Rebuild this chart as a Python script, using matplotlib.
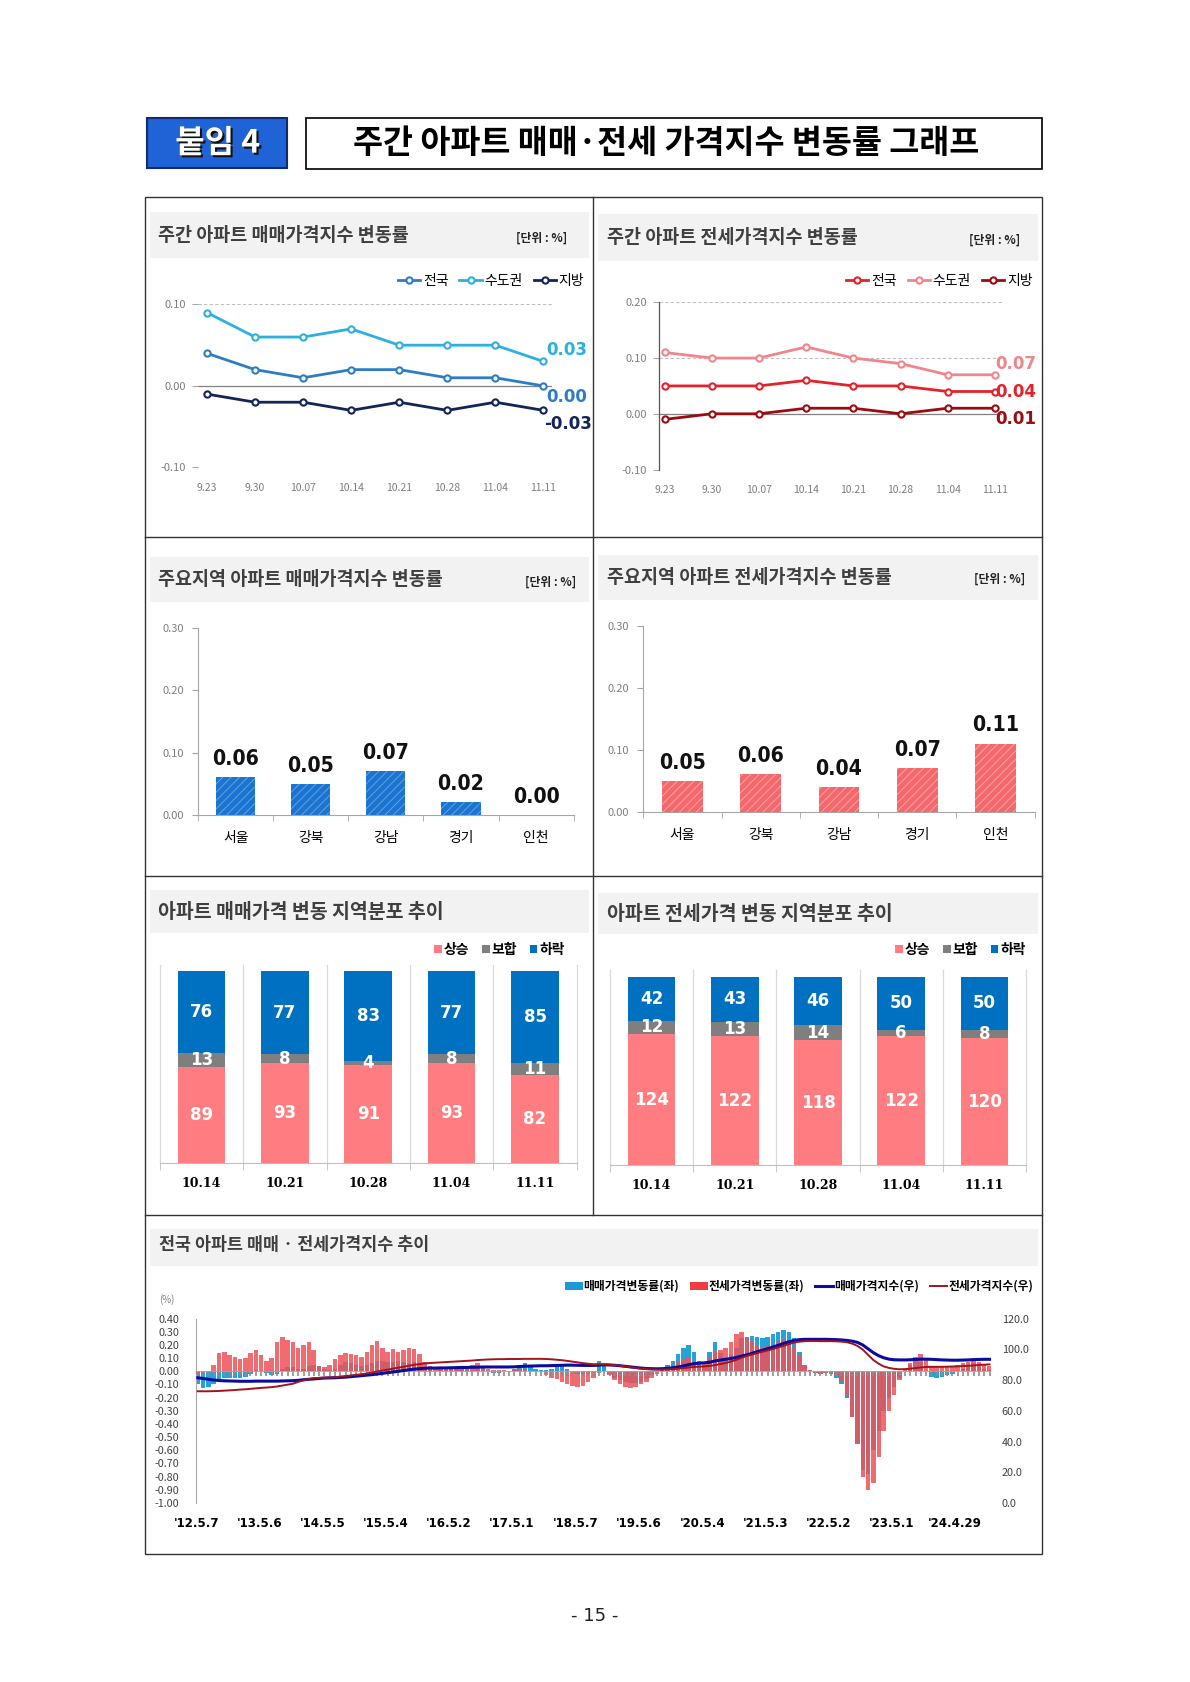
import numpy as np
import pandas as pd
import matplotlib
matplotlib.use('Agg')
import matplotlib.pyplot as plt
from matplotlib import font_manager as fm
from matplotlib.patches import Rectangle, Patch
from matplotlib.lines import Line2D
import matplotlib.patheffects as pe
import matplotlib.dates as mdates

KR = ['Noto Sans CJK KR', 'DejaVu Sans']
plt.rcParams['font.family'] = KR
plt.rcParams['axes.unicode_minus'] = False
plt.rcParams['hatch.linewidth'] = 0.7
_fl = fm.fontManager.ttflist
_names = {f.name for f in _fl}
if 'Liberation Sans Narrow' in _names:
    NUM = dict(family=['Liberation Sans Narrow', 'DejaVu Sans'])
    NS = 1.0
elif any(f.name == 'DejaVu Sans' and 'ondensed' in str(f.stretch) + f.fname for f in _fl):
    NUM = dict(family=['DejaVu Sans'], fontstretch='condensed')
    NS = 0.95
else:
    NUM = dict(family=['DejaVu Sans'])
    NS = 0.85

# ---------------- data ----------------
weeks = ['9.23', '9.30', '10.07', '10.14', '10.21', '10.28', '11.04', '11.11']
sale_nat = [0.04, 0.02, 0.01, 0.02, 0.02, 0.01, 0.01, 0.00]
sale_cap = [0.09, 0.06, 0.06, 0.07, 0.05, 0.05, 0.05, 0.03]
sale_loc = [-0.01, -0.02, -0.02, -0.03, -0.02, -0.03, -0.02, -0.03]
jeon_nat = [0.05, 0.05, 0.05, 0.06, 0.05, 0.05, 0.04, 0.04]
jeon_cap = [0.11, 0.10, 0.10, 0.12, 0.10, 0.09, 0.07, 0.07]
jeon_loc = [-0.01, 0.00, 0.00, 0.01, 0.01, 0.00, 0.01, 0.01]
line_names = ['전국', '수도권', '지방']

regions = ['서울', '강북', '강남', '경기', '인천']
sale_region = [0.06, 0.05, 0.07, 0.02, 0.00]
jeon_region = [0.05, 0.06, 0.04, 0.07, 0.11]

dist_weeks = ['10.14', '10.21', '10.28', '11.04', '11.11']
dist_names = ['상승', '보합', '하락']
sale_up = [89, 93, 91, 93, 82]
sale_flat = [13, 8, 4, 8, 11]
sale_down = [76, 77, 83, 77, 85]
jeon_up = [124, 122, 118, 122, 120]
jeon_flat = [12, 13, 14, 6, 8]
jeon_down = [42, 43, 46, 50, 50]

# long-run series (monthly readings, May 2012 - Nov 2024)
month_start = '2012-05-01'
sale_rate = [
    -0.10, -0.13, -0.12, -0.10, -0.06, -0.05, -0.05, -0.05,
    -0.05, -0.04, -0.02, 0.01, 0.00, -0.01, -0.03, -0.02, 0.02, 0.03, 0.03, 0.02,
    0.02, 0.04, 0.05, 0.04, 0.02, 0.01, 0.02, 0.05, 0.07, 0.06, 0.05, 0.04,
    0.05, 0.06, 0.08, 0.08, 0.07, 0.07, 0.08, 0.07, 0.06, 0.07, 0.06, 0.03,
    0.01, 0.00, 0.01, 0.01, 0.02, 0.03, 0.02, 0.02, 0.01, 0.03, 0.04, 0.00,
    -0.01, -0.01, 0.00, 0.00, 0.02, 0.05, 0.06, 0.03, 0.02, 0.01, 0.01, 0.02,
    0.03, 0.04, 0.02, 0.00, -0.02, -0.02, -0.01, 0.00, 0.08, 0.05, -0.02, -0.05,
    -0.07, -0.08, -0.09, -0.09, -0.08, -0.06, -0.03, 0.00, 0.02, 0.05, 0.08, 0.13,
    0.18, 0.20, 0.15, 0.08, 0.05, 0.15, 0.22, 0.14, 0.10, 0.12, 0.18, 0.25,
    0.26, 0.27, 0.26, 0.25, 0.26, 0.28, 0.30, 0.31, 0.30, 0.25, 0.15, 0.05,
    0.01, -0.01, -0.02, -0.01, -0.02, -0.05, -0.10, -0.20, -0.35, -0.55, -0.75, -0.78,
    -0.60, -0.45, -0.30, -0.20, -0.12, -0.05, 0.00, 0.05, 0.08, 0.07, 0.00, -0.04,
    -0.05, -0.04, -0.03, -0.02, 0.00, 0.02, 0.05, 0.06, 0.05, 0.02, 0.01]
jeon_rate = [
    -0.02, -0.01, 0.00, 0.05, 0.14, 0.15, 0.12, 0.11,
    0.09, 0.10, 0.14, 0.16, 0.12, 0.08, 0.10, 0.22, 0.26, 0.24, 0.22, 0.18,
    0.20, 0.22, 0.16, 0.04, 0.03, 0.05, 0.09, 0.12, 0.14, 0.13, 0.12, 0.11,
    0.15, 0.20, 0.23, 0.18, 0.15, 0.17, 0.15, 0.16, 0.18, 0.17, 0.13, 0.07,
    0.04, 0.03, 0.03, 0.02, 0.02, 0.03, 0.03, 0.03, 0.05, 0.06, 0.04, 0.02,
    0.01, 0.01, 0.01, 0.00, 0.01, 0.01, 0.01, 0.00, 0.00, 0.00, -0.03, -0.05,
    -0.06, -0.08, -0.10, -0.11, -0.12, -0.11, -0.08, -0.05, -0.01, 0.00, -0.03, -0.07,
    -0.10, -0.12, -0.13, -0.12, -0.10, -0.08, -0.05, -0.02, 0.01, 0.03, 0.05, 0.08,
    0.09, 0.10, 0.08, 0.05, 0.06, 0.10, 0.15, 0.16, 0.18, 0.22, 0.28, 0.30,
    0.25, 0.22, 0.20, 0.18, 0.19, 0.20, 0.22, 0.24, 0.23, 0.18, 0.12, 0.05,
    0.01, -0.01, -0.01, -0.01, 0.00, -0.03, -0.08, -0.18, -0.35, -0.55, -0.80, -0.90,
    -0.85, -0.65, -0.45, -0.30, -0.18, -0.07, 0.01, 0.06, 0.11, 0.13, 0.09, 0.04,
    0.03, 0.03, 0.03, 0.04, 0.05, 0.06, 0.07, 0.08, 0.07, 0.05, 0.04]
sale_idx = [
    81.5, 81.0, 80.5, 80.0, 79.7, 79.5, 79.4, 79.3,
    79.2, 79.2, 79.2, 79.3, 79.3, 79.3, 79.3, 79.3, 79.4, 79.5, 79.6, 79.8,
    80.2, 80.5, 80.8, 81.1, 81.3, 81.4, 81.5, 81.7, 81.9, 82.2, 82.5, 82.8,
    83.1, 83.5, 83.9, 84.3, 84.7, 85.2, 85.7, 86.2, 86.7, 87.1, 87.4, 87.7,
    87.8, 87.8, 87.9, 87.9, 88.0, 88.1, 88.2, 88.2, 88.3, 88.4, 88.5, 88.5,
    88.5, 88.5, 88.5, 88.5, 88.6, 88.8, 89.0, 89.1, 89.2, 89.3, 89.3, 89.4,
    89.5, 89.6, 89.7, 89.7, 89.6, 89.5, 89.5, 89.5, 89.7, 89.9, 89.8, 89.6,
    89.3, 88.9, 88.5, 88.1, 87.8, 87.5, 87.4, 87.3, 87.4, 87.6, 88.0, 88.5,
    89.2, 90.0, 90.6, 91.0, 91.2, 91.6, 92.4, 93.0, 93.5, 94.0, 94.7, 95.5,
    96.4, 97.4, 98.4, 99.4, 100.4, 101.5, 102.6, 103.8, 104.9, 105.8, 106.3, 106.5,
    106.5, 106.5, 106.5, 106.5, 106.4, 106.3, 106.1, 105.8, 105.3, 104.5, 102.8, 100.3,
    97.8, 95.8, 94.5, 93.6, 93.2, 93.1, 93.1, 93.2, 93.4, 93.6, 93.6, 93.5,
    93.3, 93.1, 93.0, 92.9, 92.9, 93.0, 93.1, 93.3, 93.4, 93.5, 93.5]
jeon_idx = [
    72.7, 72.7, 72.7, 72.8, 72.9, 73.1, 73.3, 73.5,
    73.8, 74.0, 74.3, 74.6, 74.9, 75.1, 75.4, 75.8, 76.4, 77.0, 77.6, 78.8,
    79.8, 80.6, 81.2, 81.4, 81.5, 81.7, 81.9, 82.2, 82.6, 83.0, 83.4, 83.8,
    84.3, 84.9, 85.5, 86.2, 86.8, 87.4, 88.0, 88.7, 89.3, 89.9, 90.4, 90.8,
    91.1, 91.3, 91.5, 91.7, 91.9, 92.1, 92.3, 92.5, 92.7, 93.0, 93.2, 93.4,
    93.5, 93.6, 93.6, 93.7, 93.7, 93.7, 93.8, 93.8, 93.8, 93.8, 93.7, 93.5,
    93.2, 92.9, 92.5, 92.0, 91.5, 91.0, 90.6, 90.3, 90.2, 90.2, 90.0, 89.7,
    89.3, 88.8, 88.3, 87.8, 87.4, 87.1, 86.9, 86.8, 86.8, 86.9, 87.1, 87.4,
    87.8, 88.2, 88.5, 88.7, 88.9, 89.2, 89.7, 90.4, 91.1, 92.0, 93.2, 94.5,
    95.6, 96.6, 97.5, 98.4, 99.3, 100.2, 101.2, 102.3, 103.4, 104.4, 105.0, 105.3,
    105.4, 105.4, 105.3, 105.3, 105.3, 105.2, 105.0, 104.6, 103.7, 102.2, 99.8, 96.5,
    93.0, 90.6, 88.9, 87.9, 87.3, 87.0, 87.1, 87.4, 87.8, 88.2, 88.5, 88.6,
    88.6, 88.6, 88.7, 88.8, 88.9, 89.1, 89.3, 89.5, 89.8, 90.0, 90.2]
long_ticks = ["'12.5.7", "'13.5.6", "'14.5.5", "'15.5.4", "'16.5.2", "'17.5.1",
              "'18.5.7", "'19.5.6", "'20.5.4", "'21.5.3", "'22.5.2", "'23.5.1", "'24.4.29"]
long_names = ['매매가격변동률(좌)', '전세가격변동률(좌)', '매매가격지수(우)', '전세가격지수(우)']

# ---------------- layout helpers ----------------
W, H = 1110.0, 1569.0
fig = plt.figure(figsize=(11.9, 16.82), dpi=100)
fig.patch.set_facecolor('white')


def add_ax(l, t, r, b):
    return fig.add_axes([l / W, 1 - b / H, (r - l) / W, (b - t) / H])


def frect(l, t, r, b, **kw):
    fig.add_artist(Rectangle((l / W, 1 - b / H), (r - l) / W, (b - t) / H,
                             transform=fig.transFigure, **kw))


def fline(x0, y0, x1, y1, **kw):
    fig.add_artist(Line2D([x0 / W, x1 / W], [1 - y0 / H, 1 - y1 / H],
                          transform=fig.transFigure, **kw))


def ftext(x, y, s, **kw):
    return fig.text(x / W, 1 - y / H, s, **kw)


def fpt(x, y):
    return (x / W, 1 - y / H)


# ---------------- page header ----------------
frect(137, 110, 268, 157, facecolor='#1F63D6', edgecolor='#0E2C6E', lw=1.5)
ftext(203, 134, '붙임 4', fontsize=23, fontweight='bold', color='white', ha='center', va='center',
      path_effects=[pe.withSimplePatchShadow(offset=(1.5, -1.5), shadow_rgbFace='#111111', alpha=1.0)])
frect(285, 110, 972, 158, facecolor='white', edgecolor='black', lw=1.2)
ftext(621, 134, '주간 아파트 매매·전세 가격지수 변동률 그래프', fontsize=23.5, fontweight='bold',
      ha='center', va='center', color='black')

# outer frame
frect(135, 184, 972, 1450, facecolor='none', edgecolor='#333333', lw=1.0, zorder=5)
fline(553, 184, 553, 1133, color='#333333', lw=1.0)
for yy in (501, 817, 1133):
    fline(135, yy, 972, yy, color='#333333', lw=1.0)

# header bands
bands = [
    (140, 198, 549, 241, 147, 220, '주간 아파트 매매가격지수 변동률', (505, 222), 13.3),
    (558, 200, 968, 243, 566, 222, '주간 아파트 전세가격지수 변동률', (928, 224), 13.3),
    (140, 520, 549, 562, 147, 541, '주요지역 아파트 매매가격지수 변동률', (514, 543), 13.3),
    (558, 518, 968, 560, 566, 539, '주요지역 아파트 전세가격지수 변동률', (932, 540), 13.3),
    (140, 830, 549, 870, 147, 851, '아파트 매매가격 변동 지역분포 추이', None, 14),
    (558, 833, 968, 871, 566, 853, '아파트 전세가격 변동 지역분포 추이', None, 14),
    (140, 1146, 968, 1181, 148, 1161, '전국 아파트 매매 · 전세가격지수 추이', None, 12.5),
]
for l, t, r, b, tx, ty, title, unit, fs in bands:
    frect(l, t, r, b, facecolor='#F2F2F2', edgecolor='none', zorder=0)
    ftext(tx, ty, title, fontsize=fs, fontweight='bold', color='#3F3F3F', ha='left', va='center')
    if unit is not None:
        ftext(unit[0], unit[1], '[단위 : %]', fontsize=8.5, fontweight='bold', color='#222222',
              ha='center', va='center')


# ---------------- weekly line panels ----------------
def line_panel(rect, series, colors, ylim, yticks, xlim, spine, legend_right, end_offsets):
    ax = add_ax(*rect)
    x = np.arange(len(weeks))
    for vals, col, name in zip(series, colors, line_names):
        ax.plot(x, vals, color=col, lw=2.0, marker='o', ms=4.5, mfc='white', mec=col, mew=1.5,
                label=name, zorder=3, clip_on=False)
    ax.set_xlim(*xlim)
    ax.set_ylim(*ylim)
    for yv in yticks:
        if abs(yv) < 1e-9:
            ax.axhline(yv, color='#808080', lw=0.9, zorder=1)
        else:
            ax.axhline(yv, color='#BFBFBF', lw=0.8, ls=(0, (3, 2)), zorder=1)
    for s in ax.spines.values():
        s.set_visible(False)
    if spine:
        ax.spines['left'].set_visible(True)
        ax.spines['left'].set_color('#555555')
        ax.spines['left'].set_linewidth(0.9)
    ax.set_yticks(yticks)
    ax.set_yticklabels([f'{v:.2f}' for v in yticks])
    ax.tick_params(axis='y', length=4, color='#A6A6A6', labelsize=8, labelcolor='#7F7F7F', pad=5)
    ax.set_xticks(x)
    ax.set_xticklabels(weeks)
    ax.tick_params(axis='x', length=0, labelsize=7.5, labelcolor='#7F7F7F', pad=11)
    ax.legend(loc='center right', bbox_to_anchor=fpt(legend_right, 262), bbox_transform=fig.transFigure,
              ncol=3, frameon=False, fontsize=10, handlelength=1.6, handletextpad=0.2,
              columnspacing=0.8, borderpad=0, borderaxespad=0)
    for vals, col, off in zip(series, colors, end_offsets):
        ax.annotate(f'{vals[-1]:.2f}', xy=(x[-1], vals[-1]), xytext=off, textcoords='offset points',
                    ha='center', va='center', color=col, fontsize=14 * NS,
                    fontweight='bold', annotation_clip=False, **NUM)
    return ax


line_panel((185, 284, 515, 436), [sale_nat, sale_cap, sale_loc], ['#2E7DC4', '#2BB0E0', '#14245A'],
           (-0.10, 0.10), [-0.10, 0.0, 0.10], (-0.18, 7.18), False, 545,
           [(17, -8), (17, 8.5), (18, -10)])
line_panel((615, 282, 935, 438), [jeon_nat, jeon_cap, jeon_loc], ['#E1232B', '#F0868C', '#9C0B12'],
           (-0.10, 0.20), [-0.10, 0.0, 0.10, 0.20], (-0.114, 7.16), True, 963,
           [(15, 0), (15, 8), (15, -8)])


# ---------------- regional bar panels ----------------
def region_panel(rect, vals, color, hatch_color):
    ax = add_ax(*rect)
    xr = np.arange(len(regions))
    ax.bar(xr, vals, width=0.52, color=color, edgecolor=hatch_color, hatch='////', lw=0, zorder=2)
    for i, v in enumerate(vals):
        ax.annotate(f'{v:.2f}', xy=(xr[i], v), xytext=(0, 13), textcoords='offset points',
                    ha='center', va='center', fontsize=16 * NS, fontweight='bold',
                    color='#111111', **NUM)
    ax.set_xlim(-0.5, len(regions) - 0.5)
    ax.set_ylim(0, 0.30)
    yt = [0.0, 0.10, 0.20, 0.30]
    ax.set_yticks(yt)
    ax.set_yticklabels([f'{v:.2f}' for v in yt])
    ax.tick_params(axis='y', length=4, color='#A6A6A6', labelsize=8, labelcolor='#7F7F7F', pad=6)
    ax.set_xticks(xr)
    ax.set_xticklabels(regions)
    ax.set_xticks(np.arange(-0.5, len(regions)), minor=True)
    ax.tick_params(axis='x', which='major', length=0, labelsize=10, pad=12)
    ax.tick_params(axis='x', which='minor', length=4, color='#A6A6A6')
    ax.spines['top'].set_visible(False)
    ax.spines['right'].set_visible(False)
    for s in ('left', 'bottom'):
        ax.spines[s].set_color('#A6A6A6')
        ax.spines[s].set_linewidth(0.8)
    return ax


region_panel((185, 586, 535, 760), sale_region, '#1B75D0', '#5FA3E3')
region_panel((600, 584, 965, 757), jeon_region, '#F4676B', '#FAA3A5')

# ---------------- distribution panels ----------------
dist_colors = ['#FF7C80', '#7F7F7F', '#0070C0']


def dist_panel(rect, up, flat, down, legend_right):
    ax = add_ax(*rect)
    xd = np.arange(len(dist_weeks))
    up, flat, down = np.array(up), np.array(flat), np.array(down)
    bottoms = [np.zeros(len(xd)), up, up + flat]
    for vals, bot, col in zip([up, flat, down], bottoms, dist_colors):
        ax.bar(xd, vals, bottom=bot, width=0.57, color=col, lw=0, zorder=2)
        for i in range(len(xd)):
            ax.text(xd[i], bot[i] + vals[i] / 2, f'{vals[i]}', ha='center', va='center', color='white',
                    fontsize=14 * NS, fontweight='bold', zorder=3, **NUM)
    for bnd in np.arange(-0.5, len(xd)):
        ax.axvline(bnd, color='#D9D9D9', lw=0.9, zorder=1, clip_on=False)
    ax.set_xlim(-0.5, len(xd) - 0.5)
    ax.set_ylim(0, 184)
    for s in ('top', 'right', 'left'):
        ax.spines[s].set_visible(False)
    ax.spines['bottom'].set_color('#BFBFBF')
    ax.set_yticks([])
    ax.set_xticks(xd)
    ax.set_xticklabels(dist_weeks, family=['DejaVu Serif'], fontweight='bold')
    ax.set_xticks(np.arange(-0.5, len(xd)), minor=True)
    ax.tick_params(axis='x', which='major', length=0, labelsize=9, pad=10)
    ax.tick_params(axis='x', which='minor', length=5, color='#BFBFBF')
    handles = [Patch(facecolor=c, edgecolor='none') for c in dist_colors]
    ax.legend(handles, dist_names, loc='center right', bbox_to_anchor=fpt(legend_right, 886),
              bbox_transform=fig.transFigure, ncol=3, frameon=False,
              prop={'family': KR, 'size': 10, 'weight': 'bold'},
              handlelength=0.55, handleheight=0.55, handletextpad=0.15, columnspacing=0.9,
              borderpad=0, borderaxespad=0)
    return ax


dist_panel((149, 900, 538, 1085), sale_up, sale_flat, sale_down, 527)
dist_panel((569, 905, 957, 1087), jeon_up, jeon_flat, jeon_down, 957)

# ---------------- long-run panel ----------------
dates = pd.date_range(month_start, periods=len(sale_rate), freq='MS') + pd.Timedelta(days=15)
xn = mdates.date2num(dates.to_pydatetime())
ax7 = add_ax(183, 1230, 924, 1402)
ax7.bar(xn, sale_rate, width=26, color='#27A2D8', lw=0, zorder=2)
ax7.bar(xn, jeon_rate, width=26, color='#EF5257', alpha=0.85, lw=0, zorder=3)
ax7.vlines(xn, -0.035, 0, color='#8C8C8C', lw=1.2, zorder=4)
ax7.axhline(0, color='#A6A6A6', lw=0.6, zorder=4)
ax7.set_ylim(-1.0, 0.40)
yt7 = np.round(np.arange(-10, 5) / 10.0, 2)
ax7.set_yticks(yt7)
ax7.set_yticklabels([f'{v:.2f}' for v in yt7])
ax7.tick_params(axis='y', length=0, labelsize=7.8, labelcolor='#404040', pad=12)
tick_dates = []
for s in long_ticks:
    yy, mm, dd = s[1:].split('.')
    tick_dates.append(pd.Timestamp(2000 + int(yy), int(mm), int(dd)))
ax7.set_xlim(mdates.date2num(pd.Timestamp('2012-05-07').to_pydatetime()),
             mdates.date2num(pd.Timestamp('2024-11-22').to_pydatetime()))
ax7.set_xticks(mdates.date2num([d.to_pydatetime() for d in tick_dates]))
ax7.set_xticklabels(long_ticks, fontweight='bold', family=['DejaVu Sans'])
ax7.tick_params(axis='x', length=0, labelsize=8.5, pad=10)
for s in ('top', 'right', 'bottom'):
    ax7.spines[s].set_visible(False)
ax7.spines['left'].set_color('#A6A6A6')
ax7.spines['left'].set_linewidth(0.8)

ax8 = ax7.twinx()
ax8.plot(xn, sale_idx, color='#0B0B9E', lw=2.2, zorder=5)
ax8.plot(xn, jeon_idx, color='#A1141C', lw=1.4, zorder=5)
ax8.set_ylim(0, 120)
yt8 = np.arange(0, 121, 20)
ax8.set_yticks(yt8)
ax8.set_yticklabels([f'{v:.1f}' for v in yt8])
ax8.tick_params(axis='y', length=0, labelsize=7.8, labelcolor='#404040', pad=8)
for s in ax8.spines.values():
    s.set_visible(False)

h7 = [Patch(facecolor='#1B9AD6', edgecolor='none'), Patch(facecolor='#EE3E44', edgecolor='none'),
      Line2D([], [], color='#0B0B9E', lw=2.2), Line2D([], [], color='#A1141C', lw=1.4)]
ax7.legend(h7, long_names, loc='center right', bbox_to_anchor=fpt(964, 1200), bbox_transform=fig.transFigure,
           ncol=4, frameon=False, prop={'family': KR, 'size': 8.5, 'weight': 'bold'},
           handlelength=1.5, handleheight=0.6, handletextpad=0.1, columnspacing=0.9,
           borderpad=0, borderaxespad=0)
ftext(156, 1212, '(%)', fontsize=7, color='#7F7F7F', ha='center', va='center')

# page number
ftext(555, 1507, '- 15 -', fontsize=13, ha='center', va='center', color='#222222', family=['DejaVu Sans'])

fig.savefig('out.png', dpi=100)
